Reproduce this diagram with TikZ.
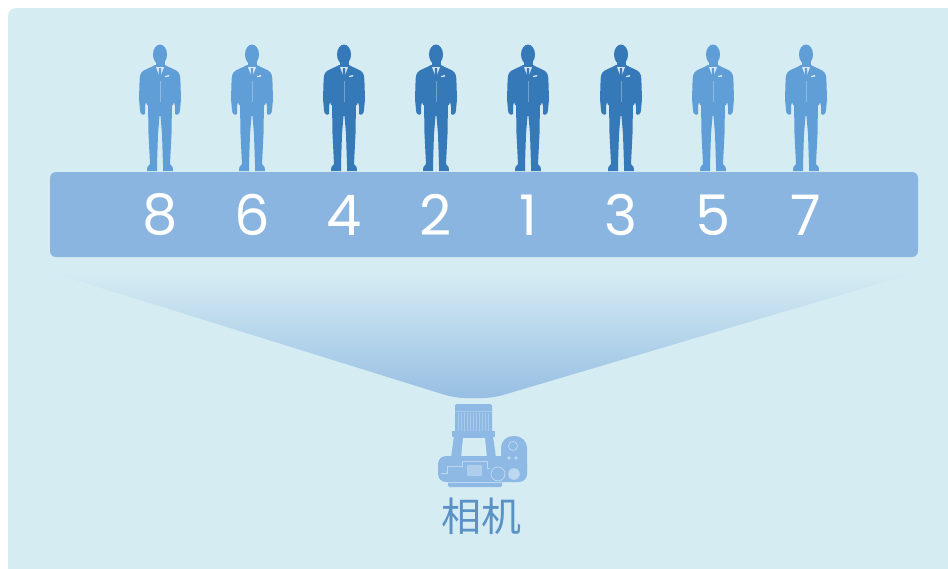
\documentclass[tikz,border=0pt]{standalone}
\usepackage{fontspec}
\newfontfamily\numfont{Poppins}
\newfontfamily\cjk{Noto Sans CJK SC}
\definecolor{panel}{HTML}{D6ECF3}
\definecolor{bar}{HTML}{89B5E0}
\definecolor{manlight}{HTML}{5F9ED7}
\definecolor{mandark}{HTML}{3679B8}
\definecolor{funnel}{HTML}{97BFE3}
\definecolor{cam}{HTML}{8DB9E4}
\definecolor{camline}{HTML}{BCD8F0}
\definecolor{label}{HTML}{5A92C6}
\tikzset{
  num/.style={text=white, inner sep=0pt, font=\numfont\fontsize{56}{56}\selectfont},
  camlbl/.style={text=label, inner sep=0pt, font=\cjk\fontsize{40}{40}\selectfont},
  % standing man in a suit; origin at the top of the head, y pointing down
  man/.pic={
    \fill[#1] (0,10.5) ellipse [x radius=7pt, y radius=10pt];
    \fill[#1] (-4.5,15) rectangle (4.5,24);
    \fill[#1] (-5,21) .. controls (-9,23.5) and (-14,25) .. (-17,27)
      .. controls (-20,29) and (-20.5,33) .. (-20.5,39)
      -- (-21,55) -- (-20,66)
      .. controls (-20,70) and (-17,72) .. (-15,70)
      -- (-15,62) -- (-14,58) -- (-13,61) -- (13,61) -- (14,58) -- (15,62) -- (15,70)
      .. controls (17,72) and (20,70) .. (20,66)
      -- (21,55) -- (20.5,39)
      .. controls (20.5,33) and (20,29) .. (17,27)
      .. controls (14,25) and (9,23.5) .. (5,21) -- cycle;
    \fill[#1] (-12,58) -- (12,58) -- (11.5,90) -- (10,120)
      .. controls (12,122) and (14,124) .. (13,127) -- (3,127) -- (3,121)
      -- (2,90) -- (0.5,72) -- (-0.5,72) -- (-2,90) -- (-3,121) -- (-3,127)
      -- (-13,127) .. controls (-14,124) and (-12,122) .. (-10,120)
      -- (-11.5,90) -- cycle;
    \fill[white, opacity=.8] (-4,23) -- (4,23) -- (0,34) -- cycle;
    \fill[#1] (-1,24) -- (1,24) -- (1.5,33) -- (0,37) -- (-1.5,33) -- cycle;
    \fill[white, opacity=.8] (5,32) -- (9,31) -- (9,32.5) -- (5,33.2) -- cycle;
    \draw[white, opacity=.3, line width=.4pt] (0,37) -- (0,58);
  }
}
\begin{document}
\begin{tikzpicture}[x=1pt, y=-1pt]
\useasboundingbox (0,0) rectangle (948,568);
\begin{scope}
  \clip (0,0) rectangle (948,568);
  \fill[panel, rounded corners=8] (8,8) rectangle (980,600);
\end{scope}

% field of view from the camera up to the row of people
\shade[top color=panel, bottom color=funnel, rounded corners=10]
  (50,272) -- (918,272) -- (493,398) -- (455,398) -- cycle;

% the row of people
\pic at (160,44) {man=manlight};
\pic at (252,44) {man=manlight};
\pic at (344,44) {man=mandark};
\pic at (436,44) {man=mandark};
\pic at (528,44) {man=mandark};
\pic at (621,44) {man=mandark};
\pic at (713,44) {man=manlight};
\pic at (806,44) {man=manlight};

% numbered bar
\fill[bar, rounded corners=6] (50,172) rectangle (918,257);
\node[num] (n8) at (160,215) {8};
\node[num] (n6) at (252,215) {6};
\node[num] (n4) at (344,215) {4};
\node[num] (n2) at (436,215) {2};
\node[num] (n1) at (528,215) {1};
\node[num] (n3) at (621,215) {3};
\node[num] (n5) at (713,215) {5};
\node[num] (n7) at (806,215) {7};

% camera seen from above
\fill[cam, rounded corners=1.5] (455,404) rectangle (492,434);
\foreach \x in {458,461,...,490} \draw[camline!60!cam, line width=.6pt] (\x,413) -- (\x,431);
\draw[camline!60!cam, line width=.5pt] (455,411) -- (492,411);
\fill[cam] (452,431) rectangle (495,437);
\fill[cam] (454,436) -- (493,436) -- (496,458) -- (451,458) -- cycle;
\fill[panel] (463,438) -- (485,438) -- (487,458.5) -- (461,458.5) -- cycle;
\fill[cam, rounded corners=8] (438,456) rectangle (527,482);
\fill[cam, rounded corners=12] (501,436) rectangle (527,482);
\fill[cam, rounded corners=1.5] (448,478) rectangle (502,487);
\draw[camline, line width=.8pt] (513,446) circle (4.5pt);
\fill[camline] (509,458) circle (1.8pt);
\fill[camline] (516,458) circle (1.8pt);
\draw[camline, line width=.8pt] (498,474) circle (7pt);
\fill[camline] (514,474) circle (5.8pt);
\fill[camline!70!cam, rounded corners=1] (467,465) rectangle (482,476);
\draw[camline, line width=.6pt] (441,473) -- (447,473) -- (447,466) -- (462,466) -- (462,461) -- (487,461) -- (487,468) -- (490,468);
\draw[camline, line width=.6pt] (448,482) -- (502,482);
\node[camlbl] (cap) at (481,516) {相机};
\end{tikzpicture}
\end{document}
